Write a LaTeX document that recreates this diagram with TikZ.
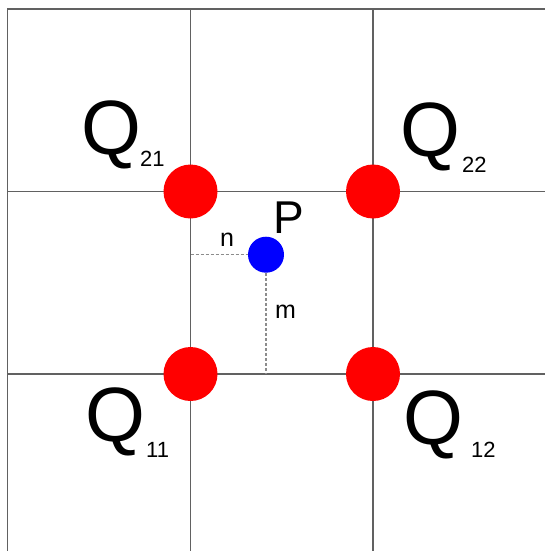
\documentclass[tikz,border=0pt]{standalone}
\usepackage{fontspec}
\setmainfont{Liberation Sans}
\begin{document}
\begin{tikzpicture}[x=1pt,y=-1pt,
  gridline/.style={draw=black!62,line width=1.2pt},
  guide/.style={draw=black!45,line width=1.2pt,dash pattern=on 3pt off 2pt},
  corner/.style={circle,fill=red,inner sep=0pt,minimum size=54pt},
  point/.style={circle,fill=blue,inner sep=0pt,minimum size=36pt},
  qlabel/.style={inner sep=0pt,anchor=base west,font=\fontsize{77}{77}\selectfont},
  sublabel/.style={inner sep=0pt,anchor=base west,font=\fontsize{22}{22}\selectfont},
  plabel/.style={inner sep=0pt,anchor=base west,font=\fontsize{46}{46}\selectfont},
  dlabel/.style={inner sep=0pt,anchor=base west,font=\fontsize{25}{25}\selectfont}]
\useasboundingbox[fill=white] (0,0) rectangle (545,551);
% grid
\draw[gridline] (545,9) -- (7.5,9) -- (7.5,551);
\draw[gridline] (7.5,191.5) -- (545,191.5);
\draw[gridline] (7.5,374) -- (545,374);
\draw[gridline] (190.5,9) -- (190.5,551);
\draw[gridline] (373,9) -- (373,551);
% guides
\node[point] (p) at (266,254.7) {};
\coordinate (nleft) at (190.5,254.7);
\coordinate (mbot) at (266,374);
\draw[guide] (nleft) -- (p.west);
\draw[guide] (p.south) -- (mbot);
% corners
\node[corner] (q21) at (190.5,191.5) {};
\node[corner] (q22) at (373,191.5) {};
\node[corner] (q11) at (190.5,374) {};
\node[corner] (q12) at (373,374) {};
% labels
\node[qlabel] (lq21) at (81.5,154) {Q};
\node[sublabel] (s21) at (140,166) {21};
\node[qlabel] (lq22) at (400.5,156) {Q};
\node[sublabel] (s22) at (462,172) {22};
\node[qlabel] (lq11) at (85.5,441) {Q};
\node[sublabel] (s11) at (146,457) {11};
\node[qlabel] (lq12) at (403.5,444) {Q};
\node[sublabel] (s12) at (471,457) {12};
\node[plabel] (lp) at (273,233) {P};
\node[dlabel] (ln) at (220,246) {n};
\node[dlabel] (lm) at (275,318) {m};
\end{tikzpicture}
\end{document}
